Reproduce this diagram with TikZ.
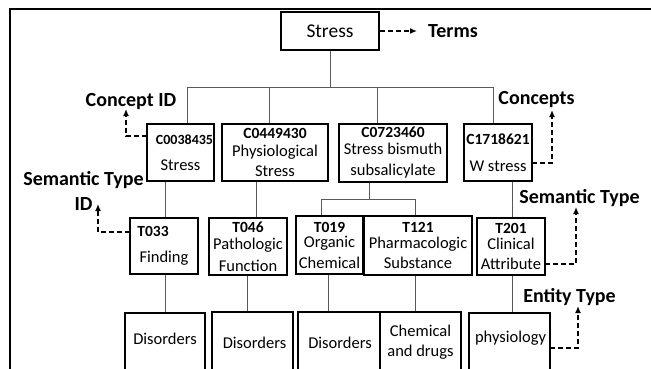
\documentclass[tikz,border=0pt]{standalone}
\usepackage{fontspec}
\setmainfont{Carlito}
\usetikzlibrary{arrows.meta,calc}
\newcommand\idf{\fontsize{15.5bp}{17bp}\selectfont\bfseries}
\begin{document}
\begin{tikzpicture}[x=1bp,y=-1bp,
  box/.style={draw, line width=1.5bp, inner sep=0.5bp, align=center, font=\fontsize{16.5bp}{19.5bp}\selectfont},
  txt/.style={inner sep=0pt, align=center, font=\fontsize{16.5bp}{19.5bp}\selectfont},
  lbl/.style={inner sep=0pt, align=center, font=\fontsize{20bp}{25bp}\selectfont\bfseries},
  conn/.style={draw=black!65, line width=1bp},
  dasharrow/.style={line width=1.4bp, dash pattern=on 5bp off 3bp, -{Latex[length=7bp,width=6bp]}},
]
\clip (0,0) rectangle (651,368);
\fill[white] (0,0) rectangle (651,368);
\draw[line width=2bp] (10,380) -- (10,9) -- (660,9);

% top
\node[box, minimum width=98bp, minimum height=38bp, font=\fontsize{19.5bp}{22bp}\selectfont] (stress) at (330,31) {Stress};
\node[lbl, anchor=west] (terms) at (428,31) {Terms};
\draw[dasharrow, shorten >=11bp] (stress.east) -- (terms.west);

% row 2
\node[box, minimum width=67bp, minimum height=57bp] (c1) at (180.5,152.5) {\hspace*{8bp}{\fontsize{14bp}{16bp}\selectfont\bfseries C0038435}\\[6bp]Stress};
\node[box, minimum width=106bp, minimum height=57bp] (c2) at (275,152.5) {{\idf C0449430}\\[-2bp]Physiological\\[1bp]Stress};
\node[box, minimum width=108bp, minimum height=58bp] (c3) at (393,153) {{\idf C0723460}\\[-3bp]Stress bismuth\\[2bp]subsalicylate};
\node[box, minimum width=68bp, minimum height=57bp] (c4) at (498,152.5) {{\idf C1718621}\\[8bp]W stress};

% row 3
\node[box, minimum width=68bp, minimum height=56bp] (t1) at (164,246) {{\idf T033\hspace*{22bp}}\\[7bp]Finding};
\node[box, minimum width=78bp, minimum height=57bp] (t2) at (248,246.5) {{\idf T046}\\[-2bp]Pathologic\\[2bp]Function};
\node[box, minimum width=67bp, minimum height=58bp] (t3) at (329.5,245) {{\idf T019}\\[-4bp]Organic\\[1bp]Chemical};
\node[box, minimum width=108bp, minimum height=59bp] (t4) at (418,245.5) {{\idf T121}\\[-4bp]Pharmacologic\\[1bp]Substance};
\node[box, minimum width=68bp, minimum height=57bp] (t5) at (511,246.5) {{\idf T201}\\[-4bp]Clinical\\[1bp]Attribute};

% row 4
\node[box, anchor=north, minimum width=80bp, minimum height=80bp] (d1) at (165,312) {};
\node[box, anchor=north, minimum width=81bp, minimum height=80bp] (d2) at (252.5,311) {};
\node[box, anchor=north, minimum width=82bp, minimum height=80bp] (d3) at (339,311) {};
\node[box, anchor=north, minimum width=81bp, minimum height=80bp] (d4) at (420.5,311) {};
\node[box, anchor=north, minimum width=81bp, minimum height=80bp] (d5) at (509.5,312) {};
\node[txt] (d1t) at (165,339) {Disorders};
\node[txt] (d2t) at (254.5,343) {Disorders};
\node[txt] (d3t) at (340,343) {Disorders};
\node[txt] (d4t) at (420.5,342) {Chemical\\and drugs};
\node[txt] (d5t) at (510.5,338) {physiology};

% labels
\node[lbl] (cid) at (131,102) {Concept ID};
\node[lbl] (con) at (536.5,100) {Concepts};
\node[lbl] (stid) at (83.5,190.5) {Semantic Type\\ID};
\node[lbl] (st) at (579.5,198) {Semantic Type};
\node[lbl] (et) at (569.5,297) {Entity Type};

% dashed arrows
\coordinate (cidA) at (147,136); \coordinate (cidB) at (126,109);
\draw[dasharrow] (cidA) -| (cidB);
\coordinate (conA) at (532,163); \coordinate (conB) at (552,110);
\draw[dasharrow] (conA) -| (conB);
\coordinate (stidA) at (130,232); \coordinate (stidB) at (98,204);
\draw[dasharrow] (stidA) -| (stidB);
\coordinate (stA) at (545,264); \coordinate (stB) at (576,207);
\draw[dasharrow] (stA) -| (stB);
\coordinate (etA) at (550,348); \coordinate (etB) at (578,306);
\draw[dasharrow] (etA) -| (etB);

% tree connectors
\coordinate (busL) at (187,87); \coordinate (busR) at (493,87);
\coordinate (bus2) at (269,87); \coordinate (bus3) at (377,87);
\draw[conn] (stress.south) -- (stress.south |- busL);
\draw[conn] (busL) -- (busR);
\draw[conn] (busL) -- (busL |- c1.north);
\draw[conn] (bus2) -- (bus2 |- c2.north);
\draw[conn] (bus3) -- (bus3 |- c3.north);
\draw[conn] (busR) -- (busR |- c4.north);

\draw[conn] (c1.south -| 165,0) -- (t1.north -| 165,0);
\draw[conn] (c2.south -| 256,0) -- (t2.north -| 256,0);
\coordinate (sp3) at (369,199); \coordinate (sp3L) at (321,199); \coordinate (sp3R) at (415,199);
\draw[conn] (c3.south -| sp3) -- (sp3);
\draw[conn] (sp3L) -- (sp3R);
\draw[conn] (sp3L) -- (sp3L |- t3.north);
\draw[conn] (sp3R) -- (sp3R |- t4.north);
\draw[conn] (c4.south -| 512,0) -- (t5.north -| 512,0);

\draw[conn] (t1.south -| 165,0) -- (d1.north -| 165,0);
\draw[conn] (t2.south -| 247,0) -- (d2.north -| 247,0);
\draw[conn] (t3.south -| 328,0) -- (d3.north -| 328,0);
\draw[conn] (t4.south -| 415,0) -- (d4.north -| 415,0);
\draw[conn] (t5.south -| 512,0) -- (d5.north -| 512,0);
\end{tikzpicture}
\end{document}
